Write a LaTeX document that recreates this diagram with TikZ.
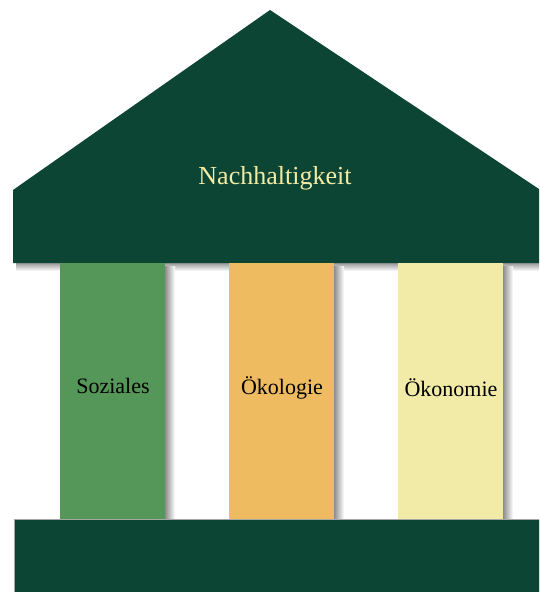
\documentclass[tikz,border=0pt]{standalone}
\usepackage{fontspec}
\setmainfont{Liberation Serif}
\definecolor{dkgreen}{HTML}{0D4535}
\definecolor{pgreen}{HTML}{559659}
\definecolor{porange}{HTML}{EFBB60}
\definecolor{pyellow}{HTML}{F2EBA8}
\definecolor{ttext}{HTML}{F2EBA4}
\begin{document}
\begin{tikzpicture}[x=1pt,y=-1pt,
  pillar/.style={draw=none,minimum width=105pt,minimum height=257pt,inner sep=0pt,font=\fontsize{22}{26}\selectfont,text=black},
  pshadow/.style={left color=black!45,right color=white,draw=none}]
\useasboundingbox (0,0) rectangle (539,592);
\clip (0,0) rectangle (539,592);
\fill[white] (0,0) rectangle (539,592);
% roof shadow
\shade[top color=black!40,bottom color=white] (16,263) rectangle (545,271);
% roof
\fill[dkgreen] (13,190) -- (270,10) -- (545,193) -- (545,263) -- (13,263) -- cycle;
\node[text=ttext,font=\fontsize{26}{30}\selectfont] (roof) at (275,178) {Nachhaltigkeit};
% pillar shadows
\shade[pshadow] (165,266) rectangle (175,520);
\shade[pshadow] (334,266) rectangle (344,520);
\shade[pshadow] (503,266) rectangle (513,520);
% pillars
\node[pillar,fill=pgreen,anchor=north west] (soz) at (60,263) {};
\node[pillar,fill=porange,anchor=north west] (oekol) at (229,263) {};
\node[pillar,fill=pyellow,anchor=north west] (oekon) at (398,263) {};
\node[font=\fontsize{22}{26}\selectfont] (tsoz) at (113,386) {Soziales};
\node[font=\fontsize{22}{26}\selectfont] (toekol) at (282,388) {Ökologie};
\node[font=\fontsize{22}{26}\selectfont] (toekon) at (451,388) {Ökonomie};
% base
\fill[black!35] (14,519) rectangle (545,592);
\fill[dkgreen] (15,520) rectangle (545,592) node[pos=0.5] (base) {};
\end{tikzpicture}
\end{document}
